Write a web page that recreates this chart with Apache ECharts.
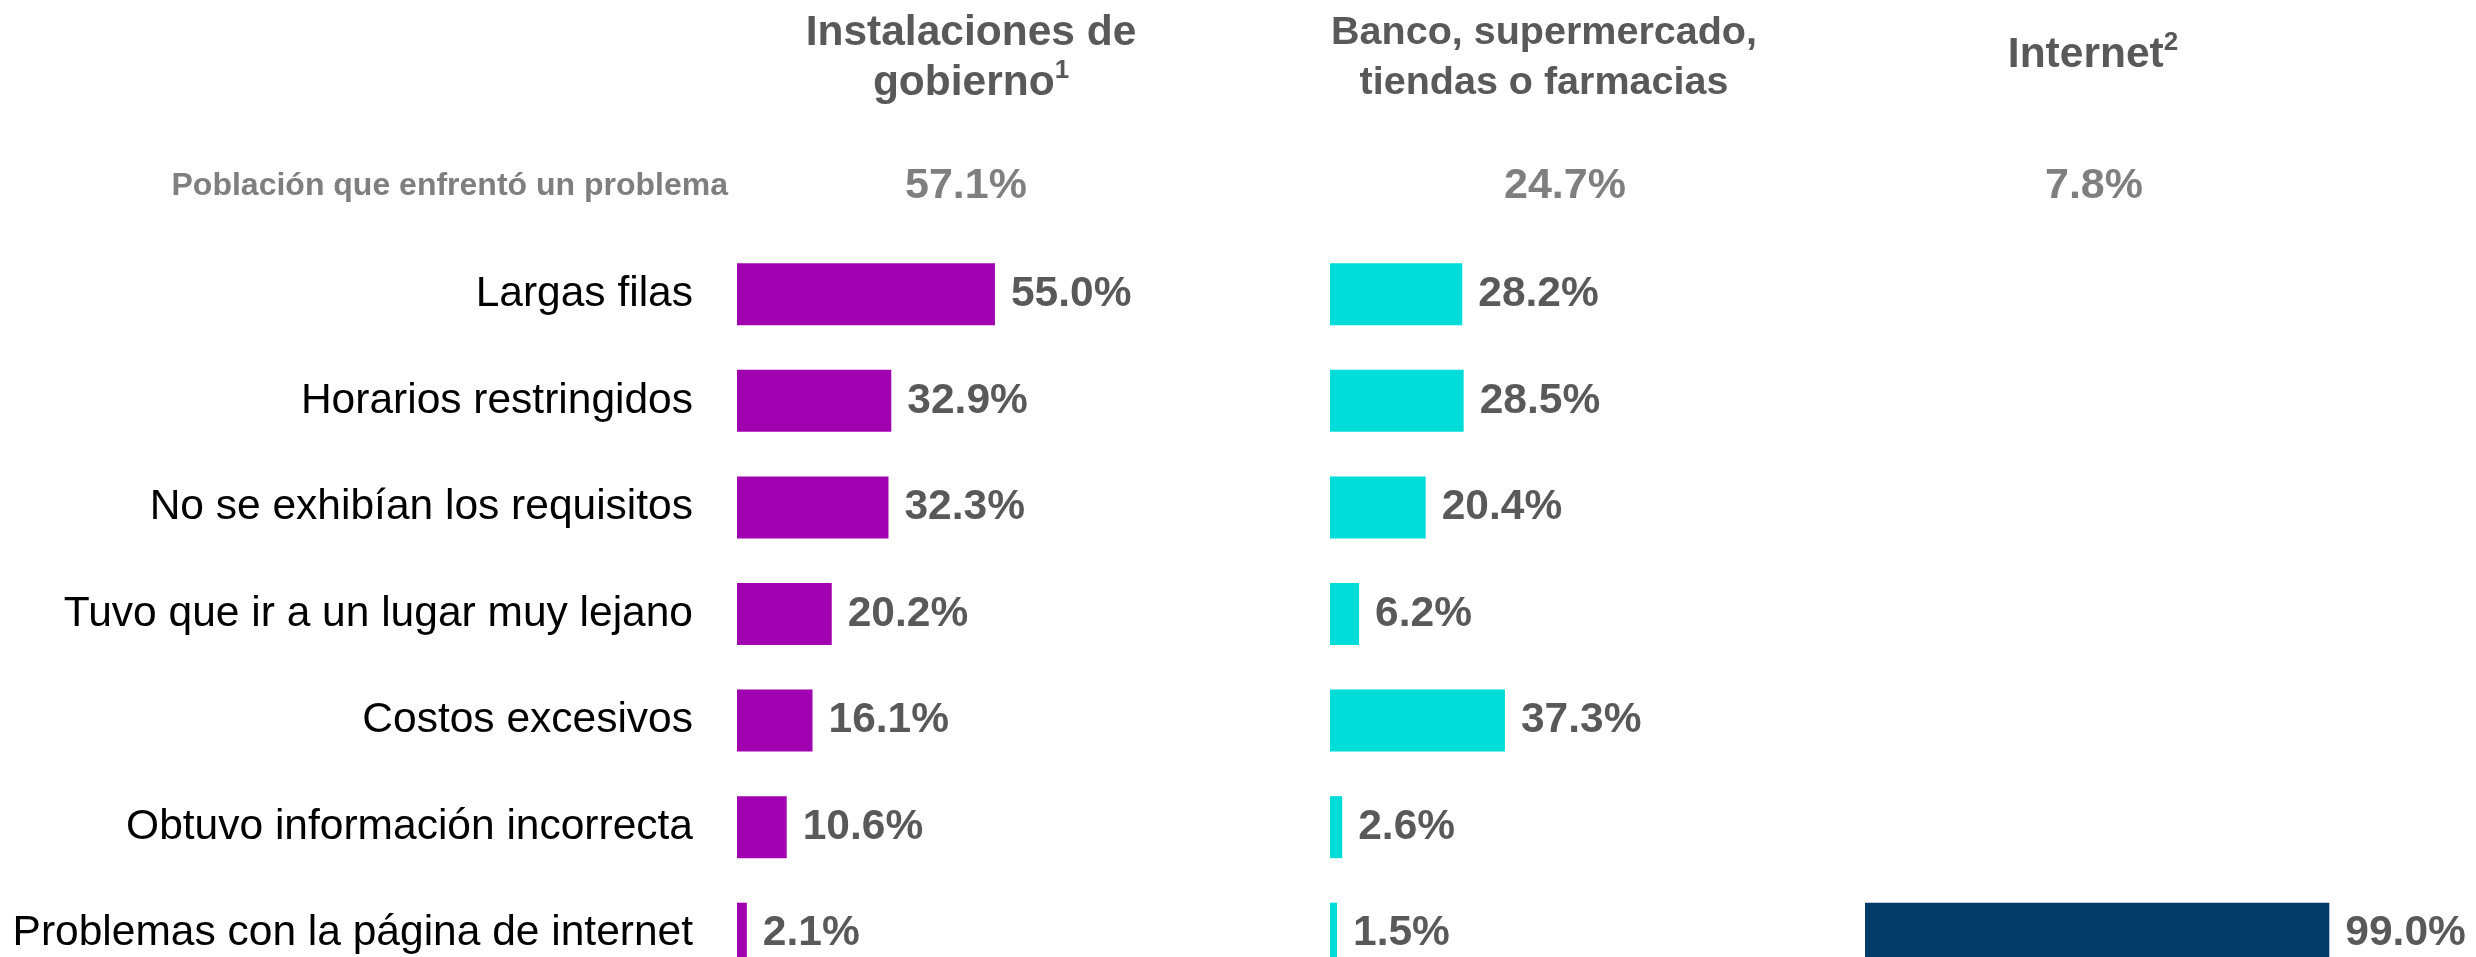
<!DOCTYPE html>
<html>
<head>
<meta charset="utf-8">
<script src="https://cdn.jsdelivr.net/npm/echarts@6/dist/echarts.min.js"></script>
<style>
  html, body { margin: 0; padding: 0; background: #ffffff; }
  #chart { width: 2476px; height: 957px; }
</style>
</head>
<body>
<div id="chart"></div>
<script>
// Problems faced when doing procedures, by place where they were done
const categories = [
  'Largas filas',
  'Horarios restringidos',
  'No se exhibían los requisitos',
  'Tuvo que ir a un lugar muy lejano',
  'Costos excesivos',
  'Obtuvo información incorrecta',
  'Problemas con la página de internet'
];
const gobierno = [55.0, 32.9, 32.3, 20.2, 16.1, 10.6, 2.1];
const banco = [28.2, 28.5, 20.4, 6.2, 37.3, 2.6, 1.5];
const internet = [null, null, null, null, null, null, 99.0];
const poblacion = [57.1, 24.7, 7.8];
const poblacionLabel = 'Población que enfrentó un problema';

// Panel layout (px)
const panelLefts = [737, 1330, 1865];
const panelWidth = 469;
const gridTop = 241;
const gridHeight = 746;
const colors = ['#A100B0', '#00DDD8', '#023A68'];
const seriesData = [gobierno, banco, internet];

const font = '"Liberation Sans", Arial, sans-serif';
const labelGrey = '#595959';

const grids = panelLefts.map(l => ({
  left: l, top: gridTop, width: panelWidth, height: gridHeight,
  outerBoundsMode: 'none', containLabel: false
}));
const xAxes = panelLefts.map((_, i) => ({
  type: 'value', gridIndex: i, min: 0, max: 100, show: false
}));
const yAxes = panelLefts.map((_, i) => ({
  type: 'category', gridIndex: i, data: categories, inverse: true,
  axisLine: { show: false }, axisTick: { show: false }, splitLine: { show: false },
  axisLabel: {
    show: i === 0, margin: 44, color: '#000000', fontSize: 42.5,
    fontFamily: font, padding: [0, 0, 8, 0]
  }
}));

const series = seriesData.map((d, i) => ({
  type: 'bar', xAxisIndex: i, yAxisIndex: i, data: d,
  barWidth: 62, itemStyle: { color: colors[i] },
  silent: true,
  label: {
    show: true, position: 'right', distance: 16,
    color: labelGrey, fontSize: 42.5, fontWeight: 'bold', fontFamily: font,
    formatter: p => (p.value == null ? '' : p.value.toFixed(1) + '%')
  }
}));

function titleStyle(size) {
  return {
    color: labelGrey, fontSize: size, fontWeight: 'bold', fontFamily: font, lineHeight: 50,
    rich: {
      sup: { fontSize: 26, fontWeight: 'bold', fontFamily: font, color: labelGrey, verticalAlign: 'top', lineHeight: 50, padding: [0, 0, 16, 0] }
    }
  };
}

const titles = [
  { text: 'Instalaciones de\ngobierno{sup|1}', left: 966, top: 3, textAlign: 'center', textStyle: titleStyle(42.5) },
  { text: 'Banco, supermercado,\ntiendas o farmacias', left: 1539, top: 3, textAlign: 'center', textStyle: titleStyle(39.5) },
  { text: 'Internet{sup|2}', left: 2088, top: 25, textAlign: 'center', textStyle: titleStyle(42.5) }
];

const popCenters = [966, 1565, 2094];
const graphics = poblacion.map((v, i) => ({
  type: 'text', x: popCenters[i], y: 186,
  style: {
    text: v.toFixed(1) + '%', align: 'center', verticalAlign: 'middle',
    fill: '#7F7F7F', fontSize: 43, fontWeight: 'bold', fontFamily: font
  }
}));
graphics.push({
  type: 'text', x: 728, y: 186,
  style: {
    text: poblacionLabel, align: 'right', verticalAlign: 'middle',
    fill: '#7F7F7F', fontSize: 32, fontWeight: 'bold', fontFamily: font
  }
});

const chart = echarts.init(document.getElementById('chart'), null, { renderer: 'canvas' });
chart.setOption({
  backgroundColor: '#ffffff',
  animation: false,
  title: titles,
  grid: grids,
  xAxis: xAxes,
  yAxis: yAxes,
  series: series,
  graphic: graphics
});
</script>
</body>
</html>
